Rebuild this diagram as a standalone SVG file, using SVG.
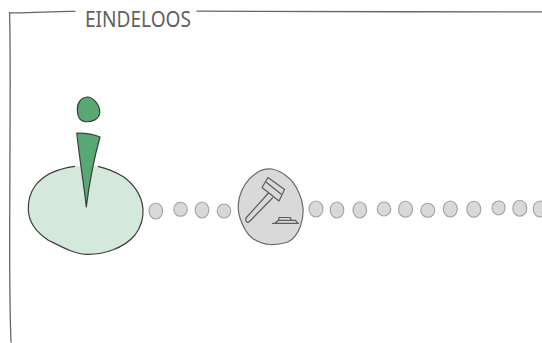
<svg xmlns="http://www.w3.org/2000/svg" width="542" height="343" viewBox="0 0 542 343">
<style>
.frame{fill:none;stroke:#666;stroke-width:1.300;stroke-linecap:round}
.dot{fill:#d9d9d9;stroke:#a3a3a3;stroke-width:1.100}
.ink{fill:none;stroke:#5c5c5c;stroke-width:1.200;stroke-linejoin:round;stroke-linecap:round}
.title{font-family:"Noto Sans","Liberation Sans",sans-serif;font-size:22px;fill:#5f5f5f}
</style>
<g id="frame">
<path class="frame" d="M75 11.300C52 11 30 13.500 9.500 12.800"/>
<path class="frame" d="M9.500 12.800C10.800 40 10 120 9.800 200C9.500 260 9.300 300 11 342"/>
<path class="frame" d="M197 11.200C300 11 430 12.300 542 11.800"/>
<text class="title" x="85" y="27" textLength="106" lengthAdjust="spacingAndGlyphs">EINDELOOS</text>
</g>
<g id="start-node">
<path d="M75 166.300C58 168.500 43 175 35 186C30 193 28 202 28.300 210C28.800 222 36 232 48 240C62 247 74 253.800 86 254.300C104 255 124 248 135 235C141 227 143.500 218 143 209C142 196 134 184 123 176.500C115 171.500 107 168.500 98 166.300C90 165.500 82 165.500 75 166.300Z" fill="#d5e8dc" stroke="none"/>
<path d="M75 166.300C58 168.500 43 175 35 186C30 193 28 202 28.300 210C28.800 222 36 232 48 240C62 247 74 253.800 86 254.300C104 255 124 248 135 235C141 227 143.500 218 143 209C142 196 134 184 123 176.500C115 171.500 107 168.500 98 166.300" fill="none" stroke="#3d3d3d" stroke-width="1.200"/>
<path d="M87 97C81 97.500 77 103 77.300 110C77.500 116 79.500 121 85 121.700C91 122 99 120 99.700 113C100.300 106 94 97 87 97Z" fill="#58a873" stroke="#3d3d3d" stroke-width="1.200"/>
<path d="M76.800 133.200C85 133 93 134 100 137C95 155 89 185 86.300 207C84 185 79 155 76.800 133.200Z" fill="#58a873" stroke="#3d3d3d" stroke-width="1.200" stroke-linejoin="round"/>
</g>
<g id="connectors">
<ellipse class="dot" cx="155.800" cy="211" rx="6.800" ry="8"/>
<ellipse class="dot" cx="180.500" cy="209.300" rx="6.800" ry="7"/>
<ellipse class="dot" cx="202" cy="210" rx="6.800" ry="8"/>
<ellipse class="dot" cx="224" cy="211" rx="6.800" ry="7"/>
<ellipse class="dot" cx="316" cy="209" rx="7" ry="8"/>
<ellipse class="dot" cx="337" cy="210" rx="6.800" ry="8"/>
<ellipse class="dot" cx="359.800" cy="210" rx="6.800" ry="8"/>
<ellipse class="dot" cx="384" cy="209" rx="6.800" ry="7"/>
<ellipse class="dot" cx="405.500" cy="209.300" rx="7" ry="8"/>
<ellipse class="dot" cx="427.800" cy="210.300" rx="7" ry="7"/>
<ellipse class="dot" cx="450.300" cy="209" rx="7" ry="8"/>
<ellipse class="dot" cx="473.800" cy="209.300" rx="7" ry="8"/>
<path class="dot" d="M499 201C503 201 505 204 505 208C505 212 502 215 498 215C495 214 492 212 492 208C492 204 495 201 499 201Z"/>
<ellipse class="dot" cx="519.800" cy="208.300" rx="7" ry="8"/>
<ellipse class="dot" cx="540" cy="209" rx="6.800" ry="8"/>
</g>
<g id="gavel-node">
<path d="M272 169C266 168.500 260 170 255 174C248 179 242 188 239.500 197C237.500 205 238 212 240 218C243 227 246 233 252 238C258 242 264 244.500 270 244.500C277 244.800 283 243.500 288 242C294 239 298 233 300.500 226C302.500 220 303.500 214 303 208C302.500 202 301 197 299 193C296 186 292 180 287 176.500C282 172 277 170 272 169Z" fill="#d9d9d9" stroke="#6b6b6b" stroke-width="1.200"/>
<path class="ink" d="M268 177.500L284.500 189.500L279 201L262 187.500Z"/>
<path class="ink" d="M266 182L281 194"/>
<path class="ink" d="M268.500 193L246 218C245 221 247 223.500 249.500 221.500L272.500 198"/>
<path class="ink" d="M272.500 223.300H298.500M275 223.300L278.500 220.300H295.500L298 223.300M278.500 220.300L279 217.500H290.500L291 220.300"/>
</g>
</svg>
